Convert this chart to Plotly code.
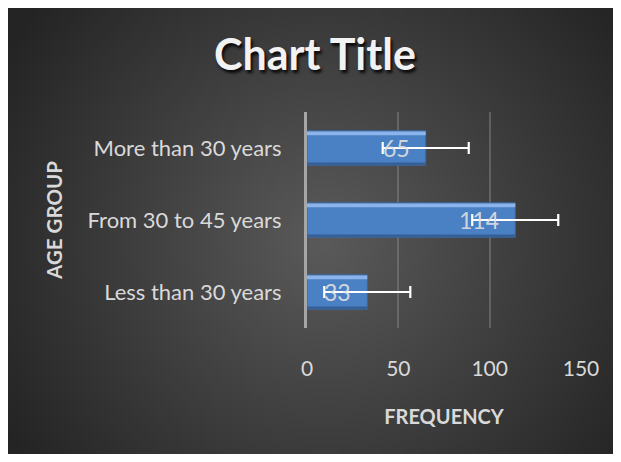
import base64
import struct
import zlib

import plotly.graph_objects as go

# ---------------- data ----------------
categories = ["Less than 30 years", "From 30 to 45 years", "More than 30 years"]
frequency = [33, 114, 65]
std_error = [23.55, 23.55, 23.55]
x_ticks = [0, 50, 100, 150]

chart_title = "Chart Title"
x_title = "FREQUENCY"
y_title = "AGE GROUP"

# ---------------- geometry (pixels, figure coords; page adds 8px body margin) ----------------
W, H = 605, 446
L, R, T, B = 299, 32, 104, 126
PW, PH = W - L - R, H - T - B


def gradient_png(w, h, c_center, c_edge, cx, cy):
    rows = []
    maxd = ((max(cx, w - cx)) ** 2 + (max(cy, h - cy)) ** 2) ** 0.5
    for j in range(h):
        row = bytearray([0])
        for i in range(w):
            d = (((i - cx) ** 2 + (j - cy) ** 2) ** 0.5) / maxd
            t = min(1.0, d * 1.05)
            for k in range(3):
                row.append(int(round(c_center[k] + (c_edge[k] - c_center[k]) * t)))
        rows.append(bytes(row))
    raw = b"".join(rows)

    def chunk(tag, data):
        c = struct.pack(">I", len(data)) + tag + data
        return c + struct.pack(">I", zlib.crc32(tag + data) & 0xFFFFFFFF)

    png = b"\x89PNG\r\n\x1a\n"
    png += chunk(b"IHDR", struct.pack(">IIBBBBB", w, h, 8, 2, 0, 0, 0))
    png += chunk(b"IDAT", zlib.compress(raw, 9))
    png += chunk(b"IEND", b"")
    return "data:image/png;base64," + base64.b64encode(png).decode()


gw, gh = 151, 111
bg_src = gradient_png(gw, gh, (90, 90, 90), (36, 36, 36), gw * 0.52, gh * 0.52)

FONT = "Lato"
LABEL_COLOR = "#d9d9d9"

fig = go.Figure()

# main bars with error bars
fig.add_trace(go.Bar(
    y=categories, x=frequency, orientation="h", width=0.476,
    marker=dict(color="#4a80c4", line=dict(color="#3a68a2", width=1)),
    error_x=dict(type="data", array=std_error, color="#ffffff", thickness=2.2, width=6),
    hoverinfo="x+y", showlegend=False,
))
# bevel highlight (top) and shade (bottom)
fig.add_trace(go.Bar(
    y=categories, x=frequency, orientation="h", width=0.05, offset=0.178,
    marker=dict(color="#8ab4ea", line=dict(width=0)),
    hoverinfo="skip", showlegend=False,
))
fig.add_trace(go.Bar(
    y=categories, x=frequency, orientation="h", width=0.035, offset=-0.236,
    marker=dict(color="#365f96", line=dict(width=0)),
    hoverinfo="skip", showlegend=False,
))

annotations = []
for cat, val in zip(categories, frequency):
    annotations.append(dict(
        x=val, y=cat, xref="x", yref="y", text=str(val), showarrow=False,
        xanchor="right", yanchor="middle", xshift=-14,
        font=dict(family=FONT, size=23, color="rgba(225,225,225,0.9)"),
    ))

fig.update_layout(
    width=W, height=H,
    margin=dict(l=L, r=R, t=T, b=B, autoexpand=False),
    paper_bgcolor="#3a3a3a",
    plot_bgcolor="rgba(0,0,0,0)",
    barmode="overlay",
    title=dict(
        text=chart_title, x=307 / W, xref="container", xanchor="center",
        y=1 - 47 / H, yref="container", yanchor="middle",
        font=dict(family=FONT, size=43, color="#f2f2f2", weight="bold",
                  shadow="2px 3px 3px rgba(0,0,0,0.85)"),
    ),
    xaxis=dict(
        range=[0, 150], tickvals=x_ticks, ticktext=[str(v) for v in x_ticks],
        showgrid=True, gridcolor="rgba(140,140,140,0.45)", gridwidth=1.5,
        zeroline=False, showline=False, ticks="",
        tickfont=dict(family=FONT, size=21, color=LABEL_COLOR),
        ticklabelstandoff=26,
        title=dict(text=x_title, standoff=30,
                   font=dict(family=FONT, size=20, color=LABEL_COLOR, weight="bold")),
        fixedrange=True,
    ),
    yaxis=dict(
        type="category", categoryorder="array", categoryarray=categories,
        range=[-0.5, 2.5],
        showgrid=False, zeroline=False,
        showline=True, linecolor="#a6a6a6", linewidth=3, ticks="",
        tickfont=dict(family=FONT, size=22, color=LABEL_COLOR),
        ticklabelstandoff=18,
        title=dict(text=y_title, standoff=20,
                   font=dict(family=FONT, size=20.5, color=LABEL_COLOR, weight="bold")),
        fixedrange=True,
    ),
    images=[dict(
        source=bg_src, xref="paper", yref="paper",
        x=(0 - L) / PW, y=(H - B) / PH,
        sizex=W / PW, sizey=H / PH,
        xanchor="left", yanchor="top", sizing="stretch", layer="below",
    )],
    annotations=annotations,
)

fig.write_html("out.html")
